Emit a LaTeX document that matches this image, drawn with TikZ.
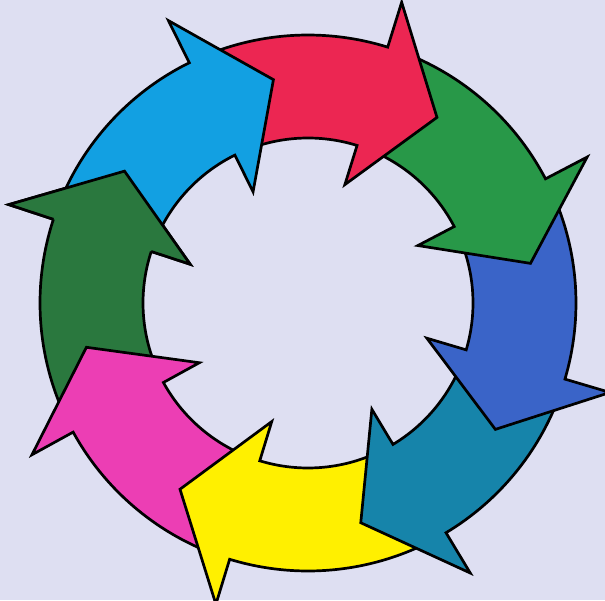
\documentclass[tikz,border=0pt]{standalone}
\usepackage{tikz}
\definecolor{bgcol}{RGB}{222,223,242}
\definecolor{acyan}{RGB}{18,160,226}
\definecolor{ared}{RGB}{236,38,82}
\definecolor{agreen}{RGB}{40,152,72}
\definecolor{ablue}{RGB}{58,100,200}
\definecolor{ateal}{RGB}{22,132,170}
\definecolor{ayellow}{RGB}{255,240,0}
\definecolor{amagenta}{RGB}{236,62,180}
\definecolor{adkgreen}{RGB}{42,120,62}
\tikzset{arrowline/.style={draw=black,line width=2.7pt,miter limit=20}}
% #1 tip angle, #2 tip angle of the arrow before it, #3 colour
\newcommand\ringarrow[3]{%
  \pgfmathsetmacro\arrB{#1+17.5}%
  \pgfmathsetmacro\arrA{#2+14}%
  \filldraw[arrowline,fill=#3] (\arrA:165pt) arc[start angle=\arrA,end angle=\arrB,radius=165pt]
    -- (\arrB:124pt) -- (#1:226pt) -- (\arrB:315pt) -- (\arrB:268pt)
    arc[start angle=\arrB,end angle=\arrA,radius=268pt] -- cycle;}
\newcommand\ringhead[2]{%
  \pgfmathsetmacro\arrB{#1+17.5}%
  \fill[#2] (\arrB:166pt) -- (\arrB:124pt) -- (#1:226pt) -- (\arrB:315pt) -- (\arrB:267pt) -- cycle;
  \draw[arrowline] (\arrB:165pt) -- (\arrB:124pt) -- (#1:226pt) -- (\arrB:315pt) -- (\arrB:268pt);}
\begin{document}
\begin{tikzpicture}[x=1pt,y=1pt]
\useasboundingbox (0,0) rectangle (605,600);
\fill[bgcol] (0,0) rectangle (605,600);
\begin{scope}[shift={(308,297)}]
\ringarrow{144.3}{191.3}{adkgreen}
\ringarrow{-168.7}{-124.5}{amagenta}
\ringarrow{-124.5}{-76.5}{ayellow}
\ringarrow{-76.5}{-34}{ateal}
\ringarrow{-34}{10.1}{ablue}
\ringarrow{10.1}{55.2}{agreen}
\ringarrow{55.2}{98.8}{ared}
\ringarrow{98.8}{144.3}{acyan}
\ringhead{144.3}{adkgreen}
\end{scope}
\end{tikzpicture}
\end{document}
